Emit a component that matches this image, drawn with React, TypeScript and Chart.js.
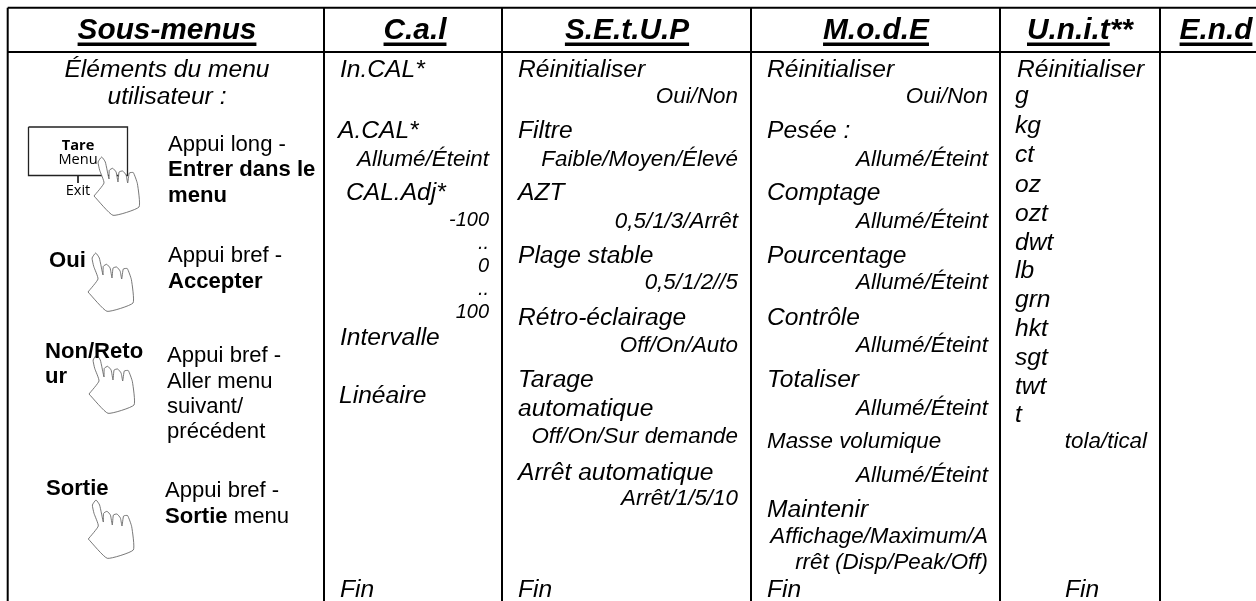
import React, { useEffect, useRef } from "react";
import { Chart, registerables } from "chart.js";

Chart.register(...registerables);

// ---- table text ----
const headers = ["Sous-menus", "C.a.l", "S.E.t.U.P", "M.o.d.E", "U.n.i.t", "E.n.d"];
const headerSuffix = "**";
const introLines = ["Éléments du menu", "utilisateur :"];
const keyLabels = ["Tare", "Menu", "Exit"];
const actionKeys = ["Oui", "Non/Reto", "ur", "Sortie"];
const actionLines = [
  "Appui long -", "Appui bref -", "Appui bref -", "Aller menu", "suivant/", "précédent", "Appui bref -",
];
const actionBold = ["Entrer dans le", "menu", "Accepter", "Sortie"];
const actionTail = " menu";

const calLabels = ["In.CAL*", "A.CAL*", "CAL.Adj*", "Intervalle", "Linéaire", "Fin"];
const calValues = ["Allumé/Éteint"];
const calNumbers = ["-100", "..", "0", "..", "100"];
const setupLabels = [
  "Réinitialiser", "Filtre", "AZT", "Plage stable", "Rétro-éclairage", "Tarage",
  "automatique", "Arrêt automatique", "Fin",
];
const setupValues = [
  "Oui/Non", "Faible/Moyen/Élevé", "0,5/1/3/Arrêt", "0,5/1/2//5", "Off/On/Auto",
  "Off/On/Sur demande", "Arrêt/1/5/10",
];
const modeLabels = [
  "Réinitialiser", "Pesée :", "Comptage", "Pourcentage", "Contrôle", "Totaliser", "Maintenir", "Fin",
];
const modeSmall = ["Masse volumique"];
const modeValues = [
  "Oui/Non", "Allumé/Éteint", "Allumé/Éteint", "Allumé/Éteint", "Allumé/Éteint",
  "Allumé/Éteint", "Allumé/Éteint", "Affichage/Maximum/A", "rrêt (Disp/Peak/Off)",
];
const unitLabels = ["g", "kg", "ct", "oz", "ozt", "dwt", "lb", "grn", "hkt", "sgt", "twt", "t"];
const unitReset = "Réinitialiser";
const unitTola = "tola/tical";
const unitEnd = "Fin";

// ---- row positions on the y scale ----
const calLabelY = [77, 138, 200, 345, 403, 597];
const calLabelX = [340, 338, 346, 340, 339, 340];
const calValueY = [166];
const calNumberY = [226, 249, 272, 295, 318];
const setupLabelY = [77, 138, 200, 263, 325, 387, 416, 480, 597];
const setupValueY = [103, 166, 228, 289, 352, 443, 505];
const modeLabelY = [77, 138, 200, 263, 325, 387, 517, 597];
const modeValueY = [103, 166, 228, 289, 352, 415, 482, 543, 569];
const unitY = [103, 133, 162, 192, 221, 250, 278, 307, 336, 365, 394, 422];

// ---- rules and glyphs ----
const colRules = [7.7, 324, 502, 751, 1000, 1160];
const rowRules = [7.7, 52];
const tableBottom = 601;
const handOutline = [
  [-7.7, 39], [2.3, 26], [-2, 13.3], [-3.6, 5], [0, 0], [3.6, 5], [7.3, 22], [7.6, 13.3],
  [11, 11.3], [14.4, 15], [16.3, 25], [17.4, 15], [21, 14], [24.4, 18], [26, 26],
  [27.6, 16], [31.6, 15.6], [35.7, 26.7], [37.3, 50], [11.3, 58.3], [-7.7, 39],
];
const handTips = [[101.7, 157], [95.7, 253], [96.7, 355], [96, 500]];
const keyBoxX = [28.5, 127.5];
const keyBoxY = [127, 175.5];
const keyStem = [[78, 175.5], [78, 183]];

const SANS = '"Liberation Sans", Arial, sans-serif';
const F_HEAD = `italic bold 29.8px ${SANS}`;
const F_MAIN = `italic 24.6px ${SANS}`;
const F_SUB = `italic 22.4px ${SANS}`;
const F_NUM = `italic 20px ${SANS}`;
const F_PLAIN = `22.1px ${SANS}`;
const F_BOLD = `bold 22.1px ${SANS}`;
const F_KEYB = `bold 14.6px "Open Sans", "Noto Sans", sans-serif`;
const F_KEY = `14.6px "Open Sans", "Noto Sans", sans-serif`;

type Txt = [string, number, number, string, CanvasTextAlign?];

function buildTexts(): Txt[] {
  const out: Txt[] = [];
  const R1 = 489, R2 = 738, R3 = 988;
  introLines.forEach((t, i) => out.push([t, 167, [77, 104][i], F_MAIN, "center"]));
  keyLabels.forEach((t, i) =>
    out.push([t, 78, [150, 164, 195][i], i === 0 ? F_KEYB : F_KEY, "center"]));
  actionKeys.forEach((t, i) =>
    out.push([t, [49, 45, 45, 46][i], [267, 358, 383, 495][i], F_BOLD]));
  actionLines.forEach((t, i) =>
    out.push([t, [168, 168, 167, 167, 167, 167, 165][i], [151, 262, 362, 388, 413, 438, 497][i], F_PLAIN]));
  actionBold.forEach((t, i) =>
    out.push([t, [168, 168, 168, 165][i], [176, 202, 288, 523][i], F_BOLD]));
  calLabels.forEach((t, i) => out.push([t, calLabelX[i], calLabelY[i], F_MAIN]));
  calValues.forEach((t, i) => out.push([t, R1, calValueY[i], F_SUB, "right"]));
  calNumbers.forEach((t, i) => out.push([t, R1, calNumberY[i], F_NUM, "right"]));
  setupLabels.forEach((t, i) => out.push([t, 518, setupLabelY[i], F_MAIN]));
  setupValues.forEach((t, i) => out.push([t, R2, setupValueY[i], F_SUB, "right"]));
  modeLabels.forEach((t, i) => out.push([t, 767, modeLabelY[i], F_MAIN]));
  modeSmall.forEach((t) => out.push([t, 767, 448, F_SUB]));
  modeValues.forEach((t, i) => out.push([t, R3, modeValueY[i], F_SUB, "right"]));
  out.push([unitReset, 1017, 77, F_MAIN]);
  unitLabels.forEach((t, i) => out.push([t, 1015, unitY[i], F_MAIN]));
  out.push([unitTola, 1147, 448, F_SUB, "right"]);
  out.push([unitEnd, 1065, 597, F_MAIN]);
  return out;
}

const headerX = [167, 415, 627, 876, 1027, 1216];

const textPlugin = {
  id: "tableText",
  afterDatasetsDraw(chart: any) {
    const { ctx, scales } = chart;
    const X = (v: number) => scales.x.getPixelForValue(v);
    const Y = (v: number) => scales.y.getPixelForValue(v);
    ctx.save();
    ctx.fillStyle = "#000";
    ctx.textBaseline = "alphabetic";
    for (const [t, x, y, font, align] of buildTexts()) {
      ctx.font = font;
      ctx.textAlign = align || "left";
      ctx.fillText(t, X(x), Y(y));
    }
    ctx.font = F_BOLD;
    ctx.textAlign = "left";
    const w = ctx.measureText(actionBold[3]).width;
    ctx.font = F_PLAIN;
    ctx.fillText(actionTail, X(165) + w, Y(523));
    ctx.font = F_HEAD;
    headers.forEach((h, i) => {
      const tw = ctx.measureText(h).width;
      const left = i === 4 ? X(headerX[i]) : X(headerX[i]) - tw / 2;
      ctx.textAlign = "left";
      ctx.fillText(h, left, Y(39));
      ctx.fillRect(left, Y(42.5), tw, 3.5);
      if (i === 4) ctx.fillText(headerSuffix, left + tw, Y(39));
    });
    ctx.restore();
  },
};

const seg = (pts: number[][], extra: any = {}) => ({
  type: "line",
  data: pts.map(([x, y]) => ({ x, y })),
  borderColor: "#000",
  borderWidth: 2,
  pointRadius: 0,
  fill: false,
  tension: 0,
  order: 5,
  ...extra,
});

export default function App() {
  const ref = useRef<HTMLCanvasElement>(null);
  useEffect(() => {
    document.body.style.margin = "0";
    const datasets: any[] = [];
    colRules.forEach((x) => datasets.push(seg([[x, rowRules[0]], [x, tableBottom]])));
    rowRules.forEach((y) => datasets.push(seg([[colRules[0], y], [1256, y]])));
    const [x0, x1] = keyBoxX;
    const [y0, y1] = keyBoxY;
    datasets.push(seg([[x0, y0], [x1, y0], [x1, y1], [x0, y1], [x0, y0]], { borderWidth: 1.3, borderColor: "#222", order: 4 }));
    datasets.push(seg(keyStem, { borderWidth: 1.5, order: 4 }));
    handTips.forEach(([tx, ty]) =>
      datasets.push(
        seg(handOutline.map(([dx, dy]) => [tx + dx, ty + dy]), {
          borderWidth: 0.8,
          borderColor: "#555",
          backgroundColor: "#fff",
          fill: "shape",
          tension: 0.15,
          order: 1,
        }),
      ),
    );
    const chart = new Chart(ref.current as HTMLCanvasElement, {
      type: "scatter",
      data: { datasets },
      options: {
        animation: false,
        responsive: false,
        events: [],
        layout: { padding: 0 },
        plugins: { legend: { display: false }, tooltip: { enabled: false } },
        scales: {
          x: { type: "linear", min: 0, max: 1256, display: false },
          y: { type: "linear", min: 0, max: 601, reverse: true, display: false },
        },
      },
      plugins: [textPlugin],
    } as any);
    return () => chart.destroy();
  }, []);
  return <canvas ref={ref} width={1256} height={601} style={{ display: "block" }} />;
}
